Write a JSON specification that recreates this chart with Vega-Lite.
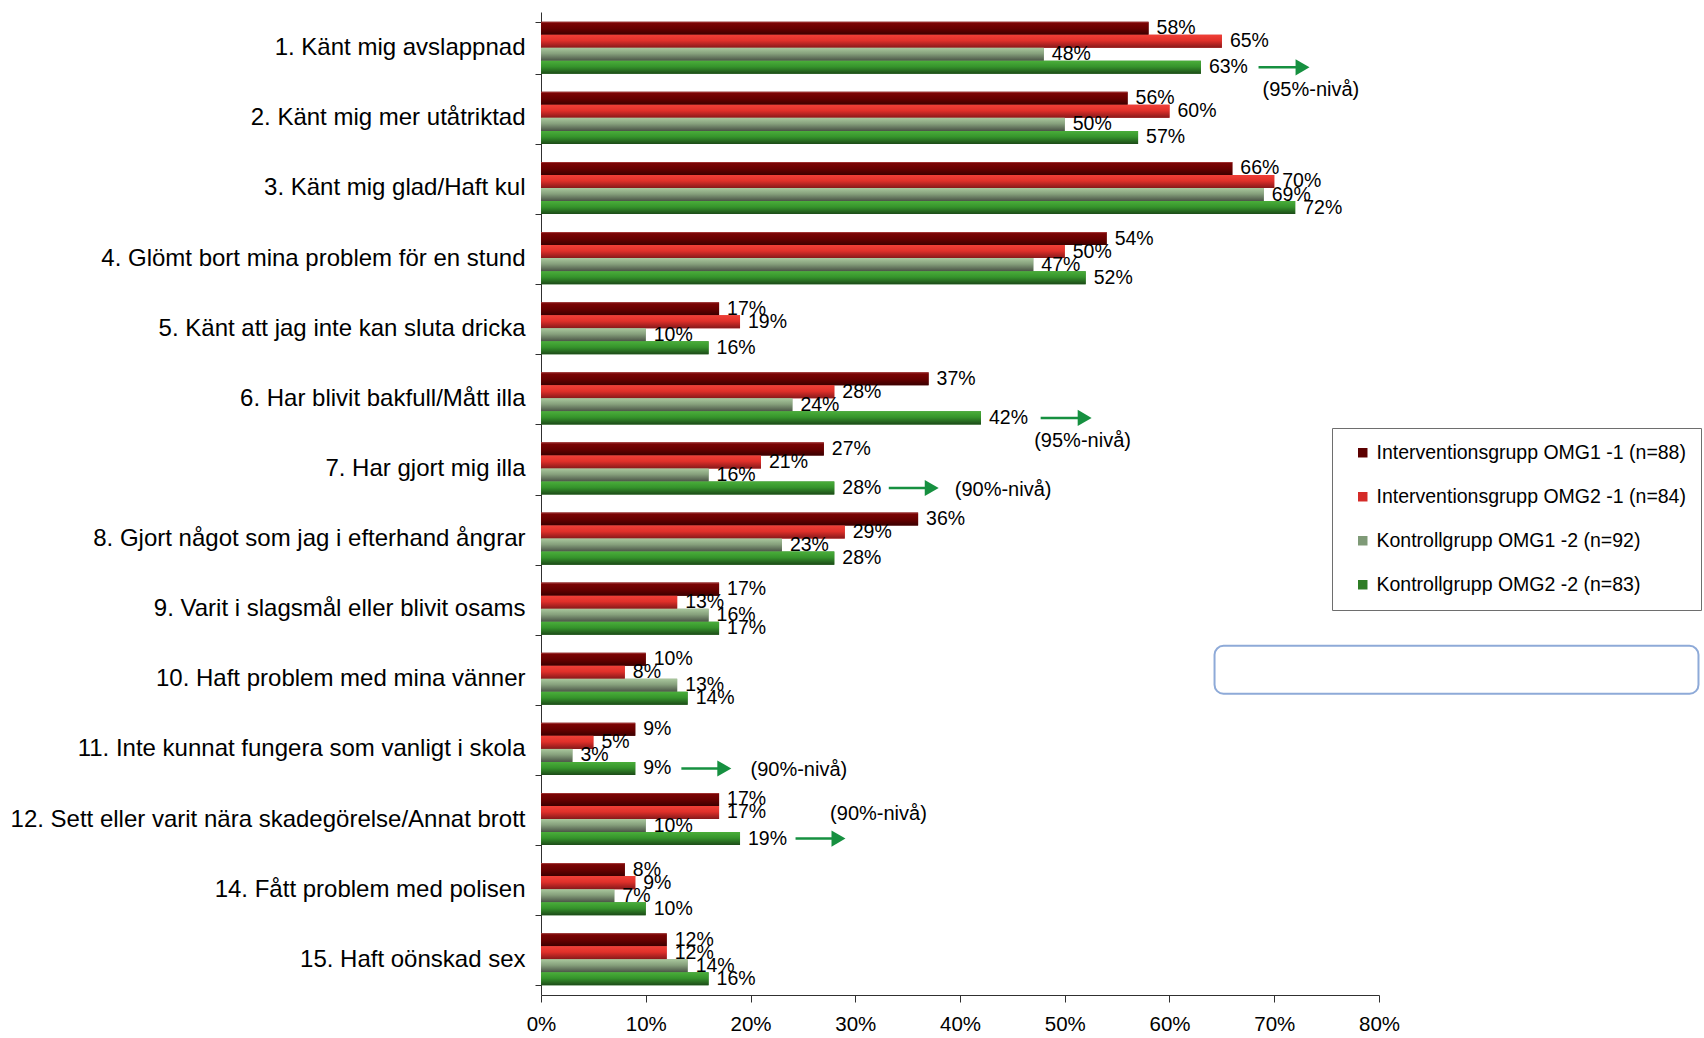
{
  "$schema": "https://vega.github.io/schema/vega-lite/v6.json",
  "autosize": "none",
  "width": 838,
  "height": 983,
  "padding": {"left": 541, "top": 12, "right": 325, "bottom": 43},
  "background": "white",
  "config": {
    "view": {"stroke": null},
    "font": "Liberation Sans",
    "axis": {"labelFont": "Liberation Sans", "labelColor": "#000000", "domainColor": "#000000", "tickColor": "#000000", "title": null, "grid": false},
    "legend": {"labelFont": "Liberation Sans", "labelColor": "#000000"}
  },
  "datasets": {
    "main": [
      {"item": "1. Känt mig avslappnad", "group": "Interventionsgrupp OMG1 -1 (n=88)", "value": 0.58},
      {"item": "1. Känt mig avslappnad", "group": "Interventionsgrupp OMG2 -1 (n=84)", "value": 0.65},
      {"item": "1. Känt mig avslappnad", "group": "Kontrollgrupp OMG1 -2 (n=92)", "value": 0.48},
      {"item": "1. Känt mig avslappnad", "group": "Kontrollgrupp OMG2 -2 (n=83)", "value": 0.63},
      {"item": "2. Känt mig mer utåtriktad", "group": "Interventionsgrupp OMG1 -1 (n=88)", "value": 0.56},
      {"item": "2. Känt mig mer utåtriktad", "group": "Interventionsgrupp OMG2 -1 (n=84)", "value": 0.60},
      {"item": "2. Känt mig mer utåtriktad", "group": "Kontrollgrupp OMG1 -2 (n=92)", "value": 0.50},
      {"item": "2. Känt mig mer utåtriktad", "group": "Kontrollgrupp OMG2 -2 (n=83)", "value": 0.57},
      {"item": "3. Känt mig glad/Haft kul", "group": "Interventionsgrupp OMG1 -1 (n=88)", "value": 0.66},
      {"item": "3. Känt mig glad/Haft kul", "group": "Interventionsgrupp OMG2 -1 (n=84)", "value": 0.70},
      {"item": "3. Känt mig glad/Haft kul", "group": "Kontrollgrupp OMG1 -2 (n=92)", "value": 0.69},
      {"item": "3. Känt mig glad/Haft kul", "group": "Kontrollgrupp OMG2 -2 (n=83)", "value": 0.72},
      {"item": "4. Glömt bort mina problem för en stund", "group": "Interventionsgrupp OMG1 -1 (n=88)", "value": 0.54},
      {"item": "4. Glömt bort mina problem för en stund", "group": "Interventionsgrupp OMG2 -1 (n=84)", "value": 0.50},
      {"item": "4. Glömt bort mina problem för en stund", "group": "Kontrollgrupp OMG1 -2 (n=92)", "value": 0.47},
      {"item": "4. Glömt bort mina problem för en stund", "group": "Kontrollgrupp OMG2 -2 (n=83)", "value": 0.52},
      {"item": "5. Känt att jag inte kan sluta dricka", "group": "Interventionsgrupp OMG1 -1 (n=88)", "value": 0.17},
      {"item": "5. Känt att jag inte kan sluta dricka", "group": "Interventionsgrupp OMG2 -1 (n=84)", "value": 0.19},
      {"item": "5. Känt att jag inte kan sluta dricka", "group": "Kontrollgrupp OMG1 -2 (n=92)", "value": 0.10},
      {"item": "5. Känt att jag inte kan sluta dricka", "group": "Kontrollgrupp OMG2 -2 (n=83)", "value": 0.16},
      {"item": "6. Har blivit bakfull/Mått illa", "group": "Interventionsgrupp OMG1 -1 (n=88)", "value": 0.37},
      {"item": "6. Har blivit bakfull/Mått illa", "group": "Interventionsgrupp OMG2 -1 (n=84)", "value": 0.28},
      {"item": "6. Har blivit bakfull/Mått illa", "group": "Kontrollgrupp OMG1 -2 (n=92)", "value": 0.24},
      {"item": "6. Har blivit bakfull/Mått illa", "group": "Kontrollgrupp OMG2 -2 (n=83)", "value": 0.42},
      {"item": "7. Har gjort mig illa", "group": "Interventionsgrupp OMG1 -1 (n=88)", "value": 0.27},
      {"item": "7. Har gjort mig illa", "group": "Interventionsgrupp OMG2 -1 (n=84)", "value": 0.21},
      {"item": "7. Har gjort mig illa", "group": "Kontrollgrupp OMG1 -2 (n=92)", "value": 0.16},
      {"item": "7. Har gjort mig illa", "group": "Kontrollgrupp OMG2 -2 (n=83)", "value": 0.28},
      {"item": "8. Gjort något som jag i efterhand ångrar", "group": "Interventionsgrupp OMG1 -1 (n=88)", "value": 0.36},
      {"item": "8. Gjort något som jag i efterhand ångrar", "group": "Interventionsgrupp OMG2 -1 (n=84)", "value": 0.29},
      {"item": "8. Gjort något som jag i efterhand ångrar", "group": "Kontrollgrupp OMG1 -2 (n=92)", "value": 0.23},
      {"item": "8. Gjort något som jag i efterhand ångrar", "group": "Kontrollgrupp OMG2 -2 (n=83)", "value": 0.28},
      {"item": "9. Varit i slagsmål eller blivit osams", "group": "Interventionsgrupp OMG1 -1 (n=88)", "value": 0.17},
      {"item": "9. Varit i slagsmål eller blivit osams", "group": "Interventionsgrupp OMG2 -1 (n=84)", "value": 0.13},
      {"item": "9. Varit i slagsmål eller blivit osams", "group": "Kontrollgrupp OMG1 -2 (n=92)", "value": 0.16},
      {"item": "9. Varit i slagsmål eller blivit osams", "group": "Kontrollgrupp OMG2 -2 (n=83)", "value": 0.17},
      {"item": "10. Haft problem med mina vänner", "group": "Interventionsgrupp OMG1 -1 (n=88)", "value": 0.10},
      {"item": "10. Haft problem med mina vänner", "group": "Interventionsgrupp OMG2 -1 (n=84)", "value": 0.08},
      {"item": "10. Haft problem med mina vänner", "group": "Kontrollgrupp OMG1 -2 (n=92)", "value": 0.13},
      {"item": "10. Haft problem med mina vänner", "group": "Kontrollgrupp OMG2 -2 (n=83)", "value": 0.14},
      {"item": "11. Inte kunnat fungera som vanligt i skola", "group": "Interventionsgrupp OMG1 -1 (n=88)", "value": 0.09},
      {"item": "11. Inte kunnat fungera som vanligt i skola", "group": "Interventionsgrupp OMG2 -1 (n=84)", "value": 0.05},
      {"item": "11. Inte kunnat fungera som vanligt i skola", "group": "Kontrollgrupp OMG1 -2 (n=92)", "value": 0.03},
      {"item": "11. Inte kunnat fungera som vanligt i skola", "group": "Kontrollgrupp OMG2 -2 (n=83)", "value": 0.09},
      {"item": "12. Sett eller varit nära skadegörelse/Annat brott", "group": "Interventionsgrupp OMG1 -1 (n=88)", "value": 0.17},
      {"item": "12. Sett eller varit nära skadegörelse/Annat brott", "group": "Interventionsgrupp OMG2 -1 (n=84)", "value": 0.17},
      {"item": "12. Sett eller varit nära skadegörelse/Annat brott", "group": "Kontrollgrupp OMG1 -2 (n=92)", "value": 0.10},
      {"item": "12. Sett eller varit nära skadegörelse/Annat brott", "group": "Kontrollgrupp OMG2 -2 (n=83)", "value": 0.19},
      {"item": "14. Fått problem med polisen", "group": "Interventionsgrupp OMG1 -1 (n=88)", "value": 0.08},
      {"item": "14. Fått problem med polisen", "group": "Interventionsgrupp OMG2 -1 (n=84)", "value": 0.09},
      {"item": "14. Fått problem med polisen", "group": "Kontrollgrupp OMG1 -2 (n=92)", "value": 0.07},
      {"item": "14. Fått problem med polisen", "group": "Kontrollgrupp OMG2 -2 (n=83)", "value": 0.10},
      {"item": "15. Haft oönskad sex", "group": "Interventionsgrupp OMG1 -1 (n=88)", "value": 0.12},
      {"item": "15. Haft oönskad sex", "group": "Interventionsgrupp OMG2 -1 (n=84)", "value": 0.12},
      {"item": "15. Haft oönskad sex", "group": "Kontrollgrupp OMG1 -2 (n=92)", "value": 0.14},
      {"item": "15. Haft oönskad sex", "group": "Kontrollgrupp OMG2 -2 (n=83)", "value": 0.16}
    ],
    "arrows": [
      {"item": "1. Känt mig avslappnad", "group": "Kontrollgrupp OMG2 -2 (n=83)", "start": 0.685, "head": 0.727},
      {"item": "6. Har blivit bakfull/Mått illa", "group": "Kontrollgrupp OMG2 -2 (n=83)", "start": 0.477, "head": 0.519},
      {"item": "7. Har gjort mig illa", "group": "Kontrollgrupp OMG2 -2 (n=83)", "start": 0.332, "head": 0.373},
      {"item": "11. Inte kunnat fungera som vanligt i skola", "group": "Kontrollgrupp OMG2 -2 (n=83)", "start": 0.134, "head": 0.175},
      {"item": "12. Sett eller varit nära skadegörelse/Annat brott", "group": "Kontrollgrupp OMG2 -2 (n=83)", "start": 0.243, "head": 0.284}
    ],
    "notesBelow": [
      {"item": "1. Känt mig avslappnad", "group": "Kontrollgrupp OMG2 -2 (n=83)", "x": 0.735, "note": "(95%-nivå)"},
      {"item": "6. Har blivit bakfull/Mått illa", "group": "Kontrollgrupp OMG2 -2 (n=83)", "x": 0.517, "note": "(95%-nivå)"}
    ],
    "notesInline": [
      {"item": "7. Har gjort mig illa", "group": "Kontrollgrupp OMG2 -2 (n=83)", "x": 0.395, "note": "(90%-nivå)"},
      {"item": "11. Inte kunnat fungera som vanligt i skola", "group": "Kontrollgrupp OMG2 -2 (n=83)", "x": 0.200, "note": "(90%-nivå)"},
      {"item": "12. Sett eller varit nära skadegörelse/Annat brott", "group": "Interventionsgrupp OMG2 -1 (n=84)", "x": 0.276, "note": "(90%-nivå)"}
    ],
    "box": [
      {"item": "10. Haft problem med mina vänner", "start": 0.643, "end": 1.105}
    ]
  },
  "layer": [
    {
      "data": {"name": "main"},
      "mark": {"type": "bar"},
      "encoding": {
        "y": {"field": "item", "type": "nominal",
          "scale": {"domain": ["1. Känt mig avslappnad", "2. Känt mig mer utåtriktad", "3. Känt mig glad/Haft kul", "4. Glömt bort mina problem för en stund", "5. Känt att jag inte kan sluta dricka", "6. Har blivit bakfull/Mått illa", "7. Har gjort mig illa", "8. Gjort något som jag i efterhand ångrar", "9. Varit i slagsmål eller blivit osams", "10. Haft problem med mina vänner", "11. Inte kunnat fungera som vanligt i skola", "12. Sett eller varit nära skadegörelse/Annat brott", "14. Fått problem med polisen", "15. Haft oönskad sex"], "paddingInner": 0.256, "paddingOuter": 0.138},
          "axis": {"labelFontSize": 24, "labelPadding": 10, "tickSize": 6, "tickBand": "extent", "labelLimit": 600, "domainColor": "#303030", "tickColor": "#303030"}},
        "yOffset": {"field": "group", "type": "nominal", "scale": {"domain": ["Interventionsgrupp OMG1 -1 (n=88)", "Interventionsgrupp OMG2 -1 (n=84)", "Kontrollgrupp OMG1 -2 (n=92)", "Kontrollgrupp OMG2 -2 (n=83)"], "paddingInner": 0, "paddingOuter": 0}},
        "x": {"field": "value", "type": "quantitative",
          "scale": {"domain": [0, 0.8], "nice": false},
          "axis": {"format": ".0%", "values": [0, 0.1, 0.2, 0.3, 0.4, 0.5, 0.6, 0.7, 0.8], "labelFontSize": 20.5, "labelFlush": false, "labelOverlap": false, "tickSize": 7, "labelPadding": 12, "domainColor": "#303030", "tickColor": "#303030"}},
        "color": {"field": "group", "type": "nominal",
          "scale": {"domain": ["Interventionsgrupp OMG1 -1 (n=88)", "Interventionsgrupp OMG2 -1 (n=84)", "Kontrollgrupp OMG1 -2 (n=92)", "Kontrollgrupp OMG2 -2 (n=83)"], "range": ["#5c0000", "#d42b28", "#7f9a77", "#2e7d25"]},
          "legend": {"orient": "none", "legendX": 791, "legendY": 416, "title": null, "direction": "vertical", "strokeColor": "#6e6e6e", "fillColor": "white", "padding": 15, "symbolType": "square", "symbolSize": 90, "symbolOffset": 6, "symbolStrokeWidth": 0, "labelFontSize": 19.5, "labelLimit": 600, "rowPadding": 23, "labelOffset": 4}}
      }
    },
    {
      "data": {"name": "main"},
      "mark": {"type": "bar"},
      "encoding": {
        "y": {"field": "item", "type": "nominal"},
        "yOffset": {"field": "group", "type": "nominal"},
        "x": {"field": "value", "type": "quantitative"},
        "fill": {
          "condition": [
            {"test": "datum.group === 'Interventionsgrupp OMG1 -1 (n=88)'", "value": {"gradient": "linear", "x1": 0, "y1": 0, "x2": 0, "y2": 1, "stops": [{"offset": 0, "color": "#b04848"}, {"offset": 0.12, "color": "#7a0404"}, {"offset": 0.55, "color": "#660000"}, {"offset": 1, "color": "#3a0000"}]}},
            {"test": "datum.group === 'Interventionsgrupp OMG2 -1 (n=84)'", "value": {"gradient": "linear", "x1": 0, "y1": 0, "x2": 0, "y2": 1, "stops": [{"offset": 0, "color": "#f04038"}, {"offset": 0.45, "color": "#e0302a"}, {"offset": 1, "color": "#86181a"}]}},
            {"test": "datum.group === 'Kontrollgrupp OMG1 -2 (n=92)'", "value": {"gradient": "linear", "x1": 0, "y1": 0, "x2": 0, "y2": 1, "stops": [{"offset": 0, "color": "#aac89e"}, {"offset": 0.45, "color": "#86a07c"}, {"offset": 1, "color": "#4a5446"}]}}
          ],
          "value": {"gradient": "linear", "x1": 0, "y1": 0, "x2": 0, "y2": 1, "stops": [{"offset": 0, "color": "#4aae3a"}, {"offset": 0.45, "color": "#36942c"}, {"offset": 1, "color": "#1c4a18"}]}
        }
      }
    },
    {
      "data": {"name": "main"},
      "mark": {"type": "text", "align": "left", "baseline": "middle", "dx": 8, "fontSize": 19.5, "color": "#000000"},
      "encoding": {
        "y": {"field": "item", "type": "nominal"},
        "yOffset": {"field": "group", "type": "nominal"},
        "x": {"field": "value", "type": "quantitative"},
        "text": {"field": "value", "type": "quantitative", "format": ".0%"}
      }
    },
    {
      "data": {"name": "arrows"},
      "mark": {"type": "rule", "color": "#169040", "strokeWidth": 2.5},
      "encoding": {
        "y": {"field": "item", "type": "nominal"},
        "yOffset": {"field": "group", "type": "nominal"},
        "x": {"field": "start", "type": "quantitative"},
        "x2": {"field": "head"}
      }
    },
    {
      "data": {"name": "arrows"},
      "mark": {"type": "point", "shape": "triangle-right", "filled": true, "size": 260, "color": "#169040", "opacity": 1},
      "encoding": {
        "y": {"field": "item", "type": "nominal"},
        "yOffset": {"field": "group", "type": "nominal"},
        "x": {"field": "head", "type": "quantitative"}
      }
    },
    {
      "data": {"name": "notesBelow"},
      "mark": {"type": "text", "align": "center", "baseline": "middle", "dy": 23, "fontSize": 20, "color": "#000000"},
      "encoding": {
        "y": {"field": "item", "type": "nominal"},
        "yOffset": {"field": "group", "type": "nominal"},
        "x": {"field": "x", "type": "quantitative"},
        "text": {"field": "note", "type": "nominal"}
      }
    },
    {
      "data": {"name": "notesInline"},
      "mark": {"type": "text", "align": "left", "baseline": "middle", "dy": 2, "fontSize": 20, "color": "#000000"},
      "encoding": {
        "y": {"field": "item", "type": "nominal"},
        "yOffset": {"field": "group", "type": "nominal"},
        "x": {"field": "x", "type": "quantitative"},
        "text": {"field": "note", "type": "nominal"}
      }
    },
    {
      "data": {"name": "box"},
      "mark": {"type": "bar", "height": 48, "yOffset": -9, "fill": "white", "stroke": "#8eaad8", "strokeWidth": 2, "cornerRadius": 9},
      "encoding": {
        "y": {"field": "item", "type": "nominal"},
        "x": {"field": "start", "type": "quantitative"},
        "x2": {"field": "end"}
      }
    }
  ]
}
